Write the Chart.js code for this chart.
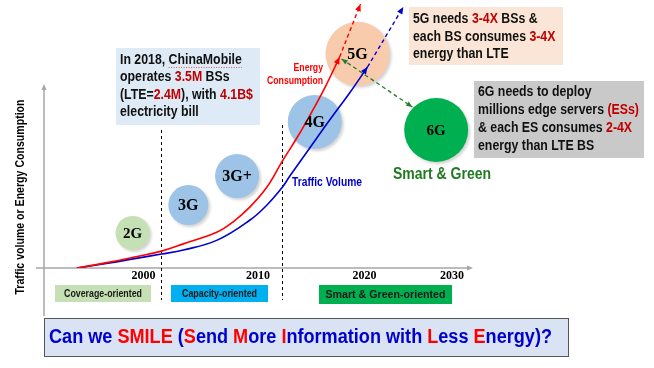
<!DOCTYPE html>
<html>
<head>
<meta charset="utf-8">
<script src="https://cdn.jsdelivr.net/npm/chart.js@4.4.1/dist/chart.umd.min.js"></script>
<style>
  html, body { margin: 0; padding: 0; background: #fff; }
  #wrap { position: relative; width: 654px; height: 368px; }
</style>
</head>
<body>
<div id="wrap"><canvas id="chart" width="654" height="368"></canvas></div>
<script>
// Eje x: años (esquemático), eje y: índice 0-100 de tráfico / energía
const tickYears = [2000, 2011.5, 2022.2, 2031];
const tickLabels = ['2000', '2010', '2020', '2030'];

// Consumo de energía (rojo)
const energyYears = [1993.3, 1996.6, 1999.1, 2001.8, 2004.0, 2007.4, 2009.0, 2010.7, 2012.4, 2013.9, 2015.4, 2016.9, 2018.3, 2019.7];
const energyValues = [0, 2.2, 4.1, 6.3, 9.0, 13.4, 17.2, 22.8, 30.2, 39.6, 48.5, 58.2, 67.9, 78.7];
const energyTrendYears = [2019.7, 2021.8];
const energyTrendValues = [78.7, 98.5];

// Volumen de tráfico (azul)
const trafficYears = [1993.3, 1996.6, 1999.1, 2001.8, 2004.0, 2007.4, 2010.7, 2012.4, 2013.9, 2014.7, 2016.7, 2018.7, 2020.7, 2022.5];
const trafficValues = [0, 1.9, 3.5, 5.2, 6.7, 10.4, 17.9, 23.5, 29.9, 34.3, 44.8, 55.2, 65.3, 75.0];
const trafficTrendYears = [2022.5, 2026.1];
const trafficTrendValues = [75.0, 97.4];

// Generaciones (burbujas)
const generations = ['2G', '3G', '3G+', '4G', '5G', '6G'];
const genYears = [1998.9, 2004.5, 2009.4, 2017.2, 2021.5, 2029.4];
const genValues = [13.1, 23.5, 34.3, 54.5, 79.9, 51.5];
const genSizes = [17, 20, 22, 27, 32, 32];
const genColors = ['#c5e0b4', '#9dc3e6', '#9dc3e6', '#9dc3e6', '#f8cbad', '#00b050'];

// Fases
const phaseLabels = ['Coverage-oriented', 'Capacity-oriented', 'Smart & Green-oriented'];
const phaseBounds = [2001.8, 2013.9];

const SANS = '"Liberation Sans", Arial, sans-serif';
const SERIF = '"Liberation Serif", "Times New Roman", serif';
const K = '#111111';
const R = '#c00000';

function toPoints(xs, ys) {
    return xs.map((x, i) => ({ x: x, y: ys[i] }));
}

// Dibuja una línea de texto con partes de distintos colores, comprimida en horizontal
function drawParts(ctx, parts, x, y, size, sx) {
    ctx.save();
    ctx.font = 'bold ' + size + 'px ' + SANS;
    ctx.textBaseline = 'middle';
    ctx.textAlign = 'left';
    ctx.translate(x, y);
    ctx.scale(sx, 1);
    let cx = 0;
    const offsets = [];
    parts.forEach(p => {
        ctx.fillStyle = p[1];
        ctx.fillText(p[0], cx, 0);
        const w = ctx.measureText(p[0]).width;
        offsets.push([cx * sx, w * sx]);
        cx += w;
    });
    ctx.restore();
    return offsets;
}

function fitScale(ctx, text, size, width) {
    ctx.save();
    ctx.font = 'bold ' + size + 'px ' + SANS;
    const w = ctx.measureText(text).width;
    ctx.restore();
    return width / w;
}

function drawText(ctx, text, x, y, size, sx, color, align) {
    ctx.save();
    ctx.font = 'bold ' + size + 'px ' + SANS;
    ctx.textBaseline = 'middle';
    ctx.textAlign = align || 'center';
    ctx.fillStyle = color;
    ctx.translate(x, y);
    ctx.scale(sx, 1);
    ctx.fillText(text, 0, 0);
    ctx.restore();
}

function arrowHead(ctx, x1, y1, x2, y2, color, len, w) {
    const a = Math.atan2(y2 - y1, x2 - x1);
    ctx.save();
    ctx.fillStyle = color;
    ctx.translate(x2, y2);
    ctx.rotate(a);
    ctx.beginPath();
    ctx.moveTo(0, 0);
    ctx.lineTo(-len, -w);
    ctx.lineTo(-len, w);
    ctx.closePath();
    ctx.fill();
    ctx.restore();
}

const overlay = {
    id: 'overlay',
    beforeDatasetsDraw(chart) {
        const ctx = chart.ctx;
        const a = chart.chartArea;
        const xs = chart.scales.x;
        ctx.save();
        // ejes
        ctx.strokeStyle = '#a6a6a6';
        ctx.lineWidth = 1.5;
        ctx.beginPath();
        ctx.moveTo(a.left - 8, a.bottom);
        ctx.lineTo(a.right - 2, a.bottom);
        ctx.moveTo(a.left, 316);
        ctx.lineTo(a.left, 88);
        ctx.stroke();
        arrowHead(ctx, a.left, 200, a.left, 84, '#a6a6a6', 6, 2.5);
        arrowHead(ctx, 300, a.bottom, a.right + 1, a.bottom, '#a6a6a6', 6, 2.5);
        // separadores de fases
        ctx.strokeStyle = '#000';
        ctx.lineWidth = 1;
        ctx.setLineDash([3, 3]);
        const tops = [130, 125];
        phaseBounds.forEach((yr, i) => {
            const px = Math.round(xs.getPixelForValue(yr)) + 0.5;
            ctx.beginPath();
            ctx.moveTo(px, tops[i]);
            ctx.lineTo(px, 300);
            ctx.stroke();
        });
        ctx.restore();
    },
    beforeDatasetDraw(chart, args) {
        if (chart.data.datasets[args.index].type === 'bubble') {
            const ctx = chart.ctx;
            ctx.save();
            ctx.shadowColor = 'rgba(0,0,0,0.18)';
            ctx.shadowOffsetX = 2;
            ctx.shadowOffsetY = 2;
            ctx.shadowBlur = 3;
        }
    },
    afterDatasetDraw(chart, args) {
        if (chart.data.datasets[args.index].type === 'bubble') {
            chart.ctx.restore();
        }
    },
    afterDatasetsDraw(chart) {
        const ctx = chart.ctx;
        const xs = chart.scales.x;
        const ys = chart.scales.y;

        // puntas de flecha al final de cada curva
        [0, 1, 2, 3].forEach(i => {
            const pts = chart.getDatasetMeta(i).data;
            const p1 = pts[pts.length - 2], p2 = pts[pts.length - 1];
            arrowHead(ctx, p1.x, p1.y, p2.x, p2.y, chart.data.datasets[i].borderColor, 7, 3);
        });

        // flecha verde 5G -> 6G
        const gx1 = xs.getPixelForValue(2019.9), gy1 = ys.getPixelForValue(78.0);
        const gx2 = xs.getPixelForValue(2027.0), gy2 = ys.getPixelForValue(60.1);
        ctx.save();
        ctx.strokeStyle = '#2a7a2a';
        ctx.lineWidth = 1.3;
        ctx.setLineDash([4, 3]);
        ctx.beginPath();
        ctx.moveTo(gx1, gy1);
        ctx.lineTo(gx2, gy2);
        ctx.stroke();
        ctx.restore();
        arrowHead(ctx, gx1, gy1, gx2, gy2, '#2a7a2a', 6, 2.5);
        arrowHead(ctx, gx2, gy2, gx1, gy1, '#2a7a2a', 6, 2.5);

        // etiquetas de las burbujas
        const bubbleMeta = chart.getDatasetMeta(4).data;
        const genFont = [15, 16, 16, 16, 16, 15];
        ctx.save();
        ctx.fillStyle = '#000';
        ctx.textAlign = 'center';
        ctx.textBaseline = 'middle';
        bubbleMeta.forEach((el, i) => {
            ctx.font = 'bold ' + genFont[i] + 'px ' + SERIF;
            ctx.fillText(generations[i], el.x, el.y + 1);
        });
        ctx.restore();

        // etiquetas de las curvas
        const sE = fitScale(ctx, 'Consumption', 11, 56);
        drawText(ctx, 'Energy', 323, 68, 11, sE, '#ff0000', 'right');
        drawText(ctx, 'Consumption', 323, 81, 11, sE, '#ff0000', 'right');
        drawText(ctx, 'Traffic Volume', 292, 183, 12, fitScale(ctx, 'Traffic Volume', 12, 70), '#0000cc', 'left');
        drawText(ctx, 'Smart & Green', 442, 175, 16, fitScale(ctx, 'Smart & Green', 16, 98), '#217a21', 'center');

        // recuadro ChinaMobile
        ctx.fillStyle = '#deebf7';
        ctx.fillRect(116, 48, 144, 77);
        const cm = [
            [['In 2018, ', K], ['ChinaMobile', K]],
            [['operates ', K], ['3.5M', R], [' BSs', K]],
            [['(LTE=', K], ['2.4M', R], ['), with ', K], ['4.1B$', R]],
            [['electricity bill', K]]
        ];
        const cmY = [60, 77.5, 95, 112.5];
        cm.forEach((line, i) => {
            const offs = drawParts(ctx, line, 120, cmY[i], 14, 0.88);
            if (i === 0) {
                // subrayado ondulado del corrector
                ctx.save();
                ctx.strokeStyle = '#e03030';
                ctx.lineWidth = 0.8;
                ctx.setLineDash([1, 1.5]);
                ctx.beginPath();
                ctx.moveTo(120 + offs[1][0], cmY[i] + 7.5);
                ctx.lineTo(120 + offs[1][0] + offs[1][1], cmY[i] + 7.5);
                ctx.stroke();
                ctx.restore();
            }
        });

        // recuadro 5G
        ctx.fillStyle = '#fbe5d6';
        ctx.fillRect(409, 7, 154, 58);
        const g5 = [
            [['5G needs ', K], ['3-4X', R], [' BSs &', K]],
            [['each BS consumes ', K], ['3-4X', R]],
            [['energy than LTE', K]]
        ];
        [19, 36.7, 54.3].forEach((yy, i) => drawParts(ctx, g5[i], 413, yy, 14, 0.88));

        // recuadro 6G
        ctx.fillStyle = '#c9c9c9';
        ctx.fillRect(474, 81, 170, 77);
        const g6 = [
            [['6G needs to deploy', K]],
            [['millions edge servers ', K], ['(ESs)', R]],
            [['& each ES consumes ', K], ['2-4X', R]],
            [['energy than LTE BS', K]]
        ];
        [92.5, 110.5, 128.3, 146].forEach((yy, i) => drawParts(ctx, g6[i], 478, yy, 14, 0.88));

        // cajas de fases
        const boxes = [
            [55, 285, 96, 17, '#c5e0b4', 78],
            [171, 285, 97, 17, '#00b0f0', 75],
            [319, 285, 133, 19, '#00b050', 120]
        ];
        boxes.forEach((b, i) => {
            ctx.fillStyle = b[4];
            ctx.fillRect(b[0], b[1], b[2], b[3]);
            drawText(ctx, phaseLabels[i], b[0] + b[2] / 2, b[1] + b[3] / 2 + 0.5, 10.5,
                fitScale(ctx, phaseLabels[i], 10.5, b[5]), '#1a1a1a', 'center');
        });

        // título del eje y
        ctx.save();
        ctx.translate(21, 197);
        ctx.rotate(-Math.PI / 2);
        drawText(ctx, 'Traffic volume or Energy Consumption', 0, 0, 12,
            fitScale(ctx, 'Traffic volume or Energy Consumption', 12, 195), '#000', 'center');
        ctx.restore();

        // pancarta inferior
        ctx.fillStyle = '#dae3f3';
        ctx.fillRect(44, 318, 524, 38);
        ctx.strokeStyle = '#555';
        ctx.lineWidth = 1;
        ctx.strokeRect(44.5, 318.5, 524, 38);
        const B = '#0000cc', RR = '#ff0000';
        const smile = [
            ['Can we ', B], ['SMILE', RR], [' (', B], ['S', RR], ['end ', B], ['M', RR], ['ore ', B],
            ['I', RR], ['nformation with ', B], ['L', RR], ['ess ', B], ['E', RR], ['nergy)?', B]
        ];
        const full = smile.map(p => p[0]).join('');
        drawParts(ctx, smile, 49, 337.5, 20, fitScale(ctx, full, 20, 503));
    }
};

new Chart(document.getElementById('chart'), {
    type: 'line',
    data: {
        datasets: [{
            label: 'Energy Consumption',
            data: toPoints(energyYears, energyValues),
            borderColor: '#ff0000',
            borderWidth: 1.6,
            pointRadius: 0,
            tension: 0.4,
            order: 1
        }, {
            label: 'Energy trend',
            data: toPoints(energyTrendYears, energyTrendValues),
            borderColor: '#ff0000',
            borderWidth: 1.4,
            borderDash: [4, 3],
            pointRadius: 0,
            order: 1
        }, {
            label: 'Traffic Volume',
            data: toPoints(trafficYears, trafficValues),
            borderColor: '#0000cc',
            borderWidth: 1.6,
            pointRadius: 0,
            tension: 0.4,
            order: 1
        }, {
            label: 'Traffic trend',
            data: toPoints(trafficTrendYears, trafficTrendValues),
            borderColor: '#0000cc',
            borderWidth: 1.4,
            borderDash: [4, 3],
            pointRadius: 0,
            order: 1
        }, {
            type: 'bubble',
            label: 'Generations',
            data: genYears.map((x, i) => ({ x: x, y: genValues[i], r: genSizes[i] })),
            backgroundColor: genColors,
            borderWidth: 0,
            order: 5
        }]
    },
    options: {
        responsive: false,
        animation: false,
        layout: { autoPadding: false, padding: { left: 44, right: 182, top: 0, bottom: 0 } },
        plugins: {
            legend: { display: false },
            tooltip: { enabled: false }
        },
        scales: {
            x: {
                type: 'linear',
                min: 1990,
                max: 2033,
                grid: { display: false, drawTicks: false, tickLength: 0 },
                border: { display: false },
                afterBuildTicks: s => { s.ticks = tickYears.map(v => ({ value: v })); },
                afterFit: s => { s.height = 100; },
                ticks: {
                    autoSkip: false,
                    maxRotation: 0,
                    padding: 1,
                    color: '#000',
                    font: { family: SERIF, size: 12, weight: 'bold' },
                    callback: (v, i) => tickLabels[i]
                }
            },
            y: { min: 0, max: 100, display: false }
        }
    },
    plugins: [overlay]
});
</script>
</body>
</html>
